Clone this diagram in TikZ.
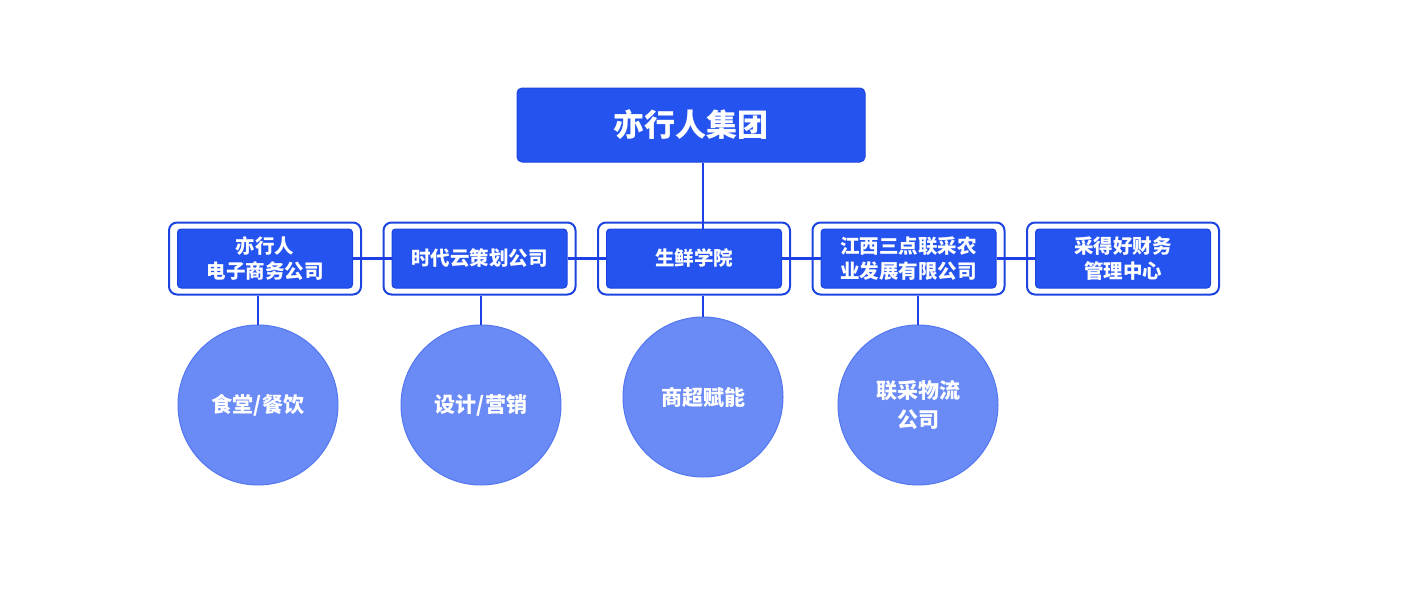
\documentclass[tikz,border=0pt]{standalone}
\usepackage{fontspec}
\usepackage{xcolor}
\newfontfamily\cjk{Noto Sans CJK SC}
\usetikzlibrary{positioning,fit}

\definecolor{mainblue}{HTML}{2453F0}
\definecolor{edgeblue}{HTML}{1C44E0}
\definecolor{lineblue}{HTML}{1D3FE6}
\definecolor{circblue}{HTML}{6A8AF5}
\definecolor{circedge}{HTML}{5477F0}

\begin{document}
\begin{tikzpicture}[
    x=1pt, y=-1pt,
    node distance=38.5pt,
    group/.style={rectangle, draw=edgeblue, line width=1pt, fill=mainblue, text=white, minimum width=348pt, minimum height=74pt, rounded corners=5pt, font=\cjk\bfseries\fontsize{31}{34}\selectfont},
    unit/.style={rectangle, draw=edgeblue, line width=1pt, fill=mainblue, text=white, minimum width=175pt, minimum height=59pt, rounded corners=3.5pt, align=center, font=\cjk\bfseries\fontsize{19.5}{25}\selectfont},
    frame/.style={rectangle, draw=edgeblue, line width=2pt, rounded corners=8pt, inner xsep=8pt, inner ysep=6pt},
    branch/.style={circle, draw=circedge, line width=1pt, fill=circblue, text=white, minimum size=160pt, inner sep=0pt, align=center, font=\cjk\bfseries\fontsize{21}{29}\selectfont},
    link/.style={draw=lineblue, line width=2.5pt}
]
    \useasboundingbox (0,0) rectangle (1409,589);

    % Group
    \node[group] (group) at (691,125) {亦行人集团};

    % Companies
    \node[unit] (u1) at (265,258.5) {亦行人\\电子商务公司};
    \node[unit, right=of u1] (u2) {时代云策划公司};
    \node[unit, right=of u2] (u3) {生鲜学院};
    \node[unit, right=of u3] (u4) {江西三点联采农\\业发展有限公司};
    \node[unit, right=of u4] (u5) {采得好财务\\管理中心};

    % Frames
    \foreach \i in {1,...,5}
        \node[frame, fit=(u\i)] (f\i) {};

    % Branches
    \node[branch] (c1) at (258,405) {食堂/餐饮};
    \node[branch] (c2) at (481,405) {设计/营销};
    \node[branch] (c3) at (703,397) {商超赋能};
    \node[branch] (c4) at (918,405) {联采物流\\公司};

    % Links
    \draw[link] (group.south -| c3.north) -- (u3.north -| c3.north);
    \draw[link] (u1) -- (u2);
    \draw[link] (u2) -- (u3);
    \draw[link] (u3) -- (u4);
    \draw[link] (u4) -- (u5);
    \foreach \i in {1,...,4}
        \draw[link] (f\i.south -| c\i.north) -- (c\i.north);

\end{tikzpicture}
\end{document}
